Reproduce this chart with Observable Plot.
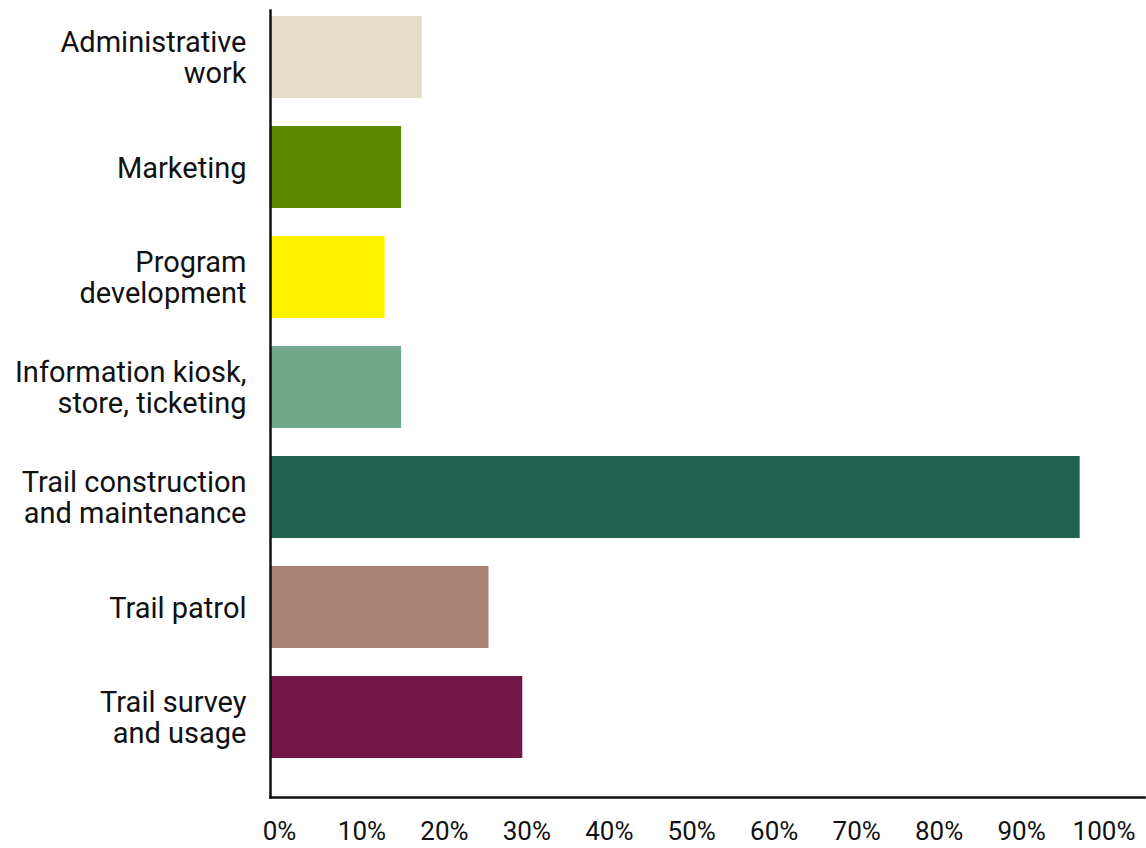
<!DOCTYPE html>
<html>
<head>
<meta charset="utf-8">
<script src="https://cdn.jsdelivr.net/npm/d3@7"></script>
<script src="https://cdn.jsdelivr.net/npm/@observablehq/plot@0.6"></script>
<style>
  html, body { margin: 0; padding: 0; background: #fff; }
  #chart svg { display: block; }
</style>
</head>
<body>
<div id="chart"></div>
<script>
const categories = [
  "Administrative work",
  "Marketing",
  "Program development",
  "Information kiosk, store, ticketing",
  "Trail construction and maintenance",
  "Trail patrol",
  "Trail survey and usage"
];
const wrappedLabels = [
  "Administrative\nwork",
  "Marketing",
  "Program\ndevelopment",
  "Information kiosk,\nstore, ticketing",
  "Trail construction\nand maintenance",
  "Trail patrol",
  "Trail survey\nand usage"
];
const values = [18.4, 15.9, 13.9, 15.9, 98.2, 26.5, 30.6];
const colors = ["#e2dcc9", "#5a8900", "#fff200", "#71a78b", "#236352", "#a88374", "#741645"];
const xTicks = [0, 10, 20, 30, 40, 50, 60, 70, 80, 90, 100];

const data = categories.map((c, i) => ({category: c, value: values[i]}));
const labelOf = new Map(categories.map((c, i) => [c, wrappedLabels[i]]));

const chart = Plot.plot({
  width: 1146,
  height: 848,
  marginLeft: 270,
  marginRight: 2,
  marginTop: 10,
  marginBottom: 51,
  style: {fontFamily: "Roboto", fontSize: "26px", color: "#111", background: "#fff"},
  x: {domain: [0, 106], label: null},
  y: {domain: categories, range: [16, 797], paddingInner: 0.252, paddingOuter: 0.145, align: 0, label: null},
  color: {domain: categories, range: colors},
  marks: [
    Plot.barX(data, {x: "value", y: "category", fill: "category"}),
    Plot.frame({anchor: "left", stroke: "#111", strokeWidth: 2.5}),
    Plot.frame({anchor: "bottom", stroke: "#111", strokeWidth: 2.5}),
    Plot.axisY({tickSize: 0, tickPadding: 24, tickFormat: d => labelOf.get(d), fontSize: 29, lineHeight: 1.09, label: null, fill: "#111"}),
    Plot.axisX({ticks: xTicks, tickSize: 0, tickPadding: 24, tickFormat: d => d + "%", dx: 9, fontSize: 26, label: null, fill: "#111"})
  ]
});
document.getElementById("chart").appendChild(chart);
</script>
</body>
</html>
